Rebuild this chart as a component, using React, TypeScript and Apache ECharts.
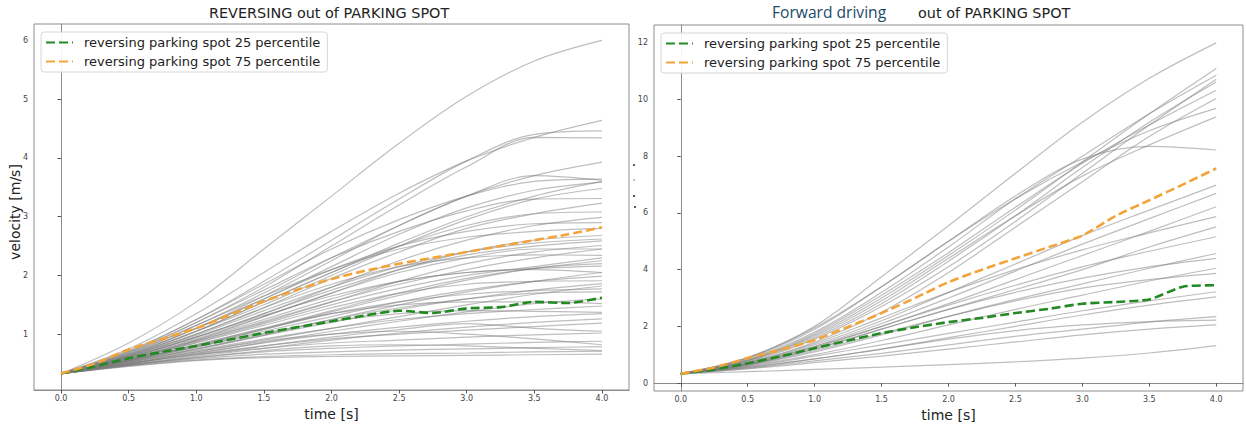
import React, { useEffect, useRef } from "react";
import * as echarts from "echarts";

const NAME25 = "reversing parking spot 25 percentile";
const NAME75 = "reversing parking spot 75 percentile";

const T9 = [0, 0.5, 1, 1.5, 2, 2.5, 3, 3.5, 4];
const T17 = [0, 0.25, 0.5, 0.75, 1, 1.25, 1.5, 1.75, 2, 2.25, 2.5, 2.75, 3, 3.25, 3.5, 3.75, 4];
const X_TICKS = [0, 0.5, 1, 1.5, 2, 2.5, 3, 3.5, 4];
const Y_TICKS_LEFT = [1, 2, 3, 4, 5, 6];
const Y_TICKS_RIGHT = [0, 2, 4, 6, 8, 10, 12];

// Reversing runs (left panel), values at T9
const leftRuns: number[][] = [
  [0.33, 0.85, 1.55, 2.45, 3.35, 4.25, 5.05, 5.65, 6.0],
  [0.33, 0.75, 1.35, 2.05, 2.75, 3.4, 3.95, 4.35, 4.64],
  [0.33, 0.72, 1.25, 1.9, 2.6, 3.3, 3.95, 4.4, 4.46],
  [0.33, 0.7, 1.2, 1.8, 2.5, 3.2, 3.85, 4.35, 4.34],
  [0.33, 0.68, 1.15, 1.7, 2.3, 2.85, 3.35, 3.7, 3.93],
  [0.33, 0.7, 1.25, 1.85, 2.45, 2.95, 3.35, 3.6, 3.64],
  [0.33, 0.66, 1.1, 1.6, 2.15, 2.7, 3.15, 3.45, 3.59],
  [0.33, 0.64, 1.05, 1.5, 2.0, 2.5, 2.95, 3.3, 3.48],
  [0.33, 0.68, 1.2, 1.75, 2.3, 2.75, 3.1, 3.3, 3.31],
  [0.33, 0.62, 1.0, 1.45, 1.95, 2.4, 2.8, 3.05, 3.23],
  [0.33, 0.63, 1.05, 1.55, 2.05, 2.5, 2.85, 3.05, 3.08],
  [0.33, 0.6, 0.95, 1.35, 1.8, 2.25, 2.6, 2.85, 2.99],
  [0.33, 0.65, 1.1, 1.6, 2.1, 2.5, 2.75, 2.88, 2.9],
  [0.33, 0.58, 0.9, 1.3, 1.7, 2.1, 2.4, 2.6, 2.68],
  [0.33, 0.6, 0.95, 1.35, 1.75, 2.1, 2.35, 2.5, 2.59],
  [0.33, 0.57, 0.88, 1.2, 1.55, 1.9, 2.2, 2.4, 2.51],
  [0.33, 0.62, 1.0, 1.45, 1.85, 2.15, 2.3, 2.35, 2.34],
  [0.33, 0.55, 0.82, 1.1, 1.4, 1.7, 1.95, 2.12, 2.25],
  [0.33, 0.58, 0.9, 1.25, 1.6, 1.9, 2.05, 2.12, 2.16],
  [0.33, 0.54, 0.78, 1.05, 1.3, 1.55, 1.75, 1.9, 1.99],
  [0.33, 0.56, 0.85, 1.15, 1.45, 1.7, 1.85, 1.9, 1.91],
  [0.33, 0.53, 0.75, 0.98, 1.2, 1.42, 1.6, 1.75, 1.86],
  [0.33, 0.55, 0.8, 1.08, 1.35, 1.55, 1.68, 1.74, 1.77],
  [0.33, 0.52, 0.72, 0.92, 1.1, 1.25, 1.35, 1.42, 1.48],
  [0.33, 0.54, 0.78, 1.02, 1.22, 1.35, 1.4, 1.39, 1.37],
  [0.33, 0.5, 0.66, 0.8, 0.92, 1.0, 1.07, 1.13, 1.19],
  [0.33, 0.5, 0.65, 0.76, 0.85, 0.9, 0.95, 0.99, 1.02],
  [0.33, 0.48, 0.6, 0.7, 0.76, 0.8, 0.83, 0.86, 0.88],
  [0.33, 0.47, 0.58, 0.66, 0.7, 0.73, 0.75, 0.77, 0.79],
  [0.33, 0.46, 0.56, 0.62, 0.65, 0.67, 0.68, 0.7, 0.71],
  [0.33, 0.45, 0.55, 0.6, 0.62, 0.63, 0.64, 0.65, 0.66],
  [0.33, 0.66, 1.15, 1.65, 2.1, 2.45, 2.65, 2.75, 2.8],
  [0.33, 0.6, 0.98, 1.4, 1.8, 2.15, 2.4, 2.55, 2.62],
  [0.33, 0.56, 0.86, 1.18, 1.5, 1.78, 2.0, 2.15, 2.3],
  [0.33, 0.52, 0.74, 0.98, 1.25, 1.5, 1.72, 1.9, 2.05],
  [0.33, 0.5, 0.7, 0.9, 1.1, 1.3, 1.5, 1.68, 1.82],
  [0.33, 0.49, 0.67, 0.86, 1.05, 1.22, 1.38, 1.52, 1.6],
  [0.33, 0.55, 0.82, 1.1, 1.35, 1.5, 1.55, 1.55, 1.52],
  [0.33, 0.5, 0.68, 0.85, 1.0, 1.12, 1.22, 1.3, 1.35],
  [0.33, 0.47, 0.62, 0.76, 0.9, 1.02, 1.12, 1.2, 1.26],
  [0.33, 0.52, 0.75, 1.0, 1.25, 1.45, 1.6, 1.7, 1.72],
  [0.33, 0.58, 0.92, 1.3, 1.7, 2.05, 2.3, 2.45, 2.45],
  [0.33, 0.62, 1.05, 1.55, 2.05, 2.55, 3.0, 3.35, 3.6],
  [0.33, 0.64, 1.1, 1.65, 2.25, 2.85, 3.35, 3.7, 3.62],
  [0.33, 0.48, 0.64, 0.8, 0.95, 1.08, 1.18, 1.1, 1.05],
  [0.33, 0.5, 0.7, 0.88, 1.0, 1.05, 1.0, 0.92, 0.82],
  [0.33, 0.47, 0.6, 0.72, 0.8, 0.82, 0.8, 0.76, 0.72],
  [0.33, 0.56, 0.88, 1.22, 1.55, 1.85, 2.1, 2.3, 2.45],
  [0.33, 0.54, 0.8, 1.08, 1.38, 1.66, 1.92, 2.12, 2.2],
  [0.33, 0.6, 0.95, 1.32, 1.65, 1.9, 2.05, 2.1, 2.05],
];

// Forward runs (right panel), values at T9
const rightRuns: number[][] = [
  [0.33, 0.9, 2.0, 3.75, 5.55, 7.4, 9.2, 10.75, 12.0],
  [0.33, 0.8, 1.7, 3.0, 4.5, 6.1, 7.8, 9.5, 11.1],
  [0.33, 0.85, 1.8, 3.2, 4.8, 6.5, 8.0, 9.5, 10.86],
  [0.33, 0.75, 1.55, 2.7, 4.1, 5.7, 7.4, 9.1, 10.72],
  [0.33, 0.78, 1.6, 2.8, 4.3, 5.9, 7.6, 9.2, 10.62],
  [0.33, 0.82, 1.75, 3.1, 4.6, 6.2, 7.75, 9.1, 10.33],
  [0.33, 0.72, 1.45, 2.5, 3.9, 5.5, 7.1, 8.7, 10.04],
  [0.33, 0.88, 1.9, 3.4, 5.0, 6.5, 7.8, 8.9, 9.69],
  [0.33, 0.8, 1.65, 2.9, 4.4, 5.9, 7.3, 8.4, 9.39],
  [0.33, 0.9, 1.95, 3.4, 5.0, 6.6, 7.9, 8.35, 8.22],
  [0.33, 0.7, 1.35, 2.2, 3.2, 4.2, 5.2, 6.1, 6.98],
  [0.33, 0.68, 1.3, 2.1, 3.0, 3.95, 4.9, 5.8, 6.69],
  [0.33, 0.66, 1.25, 2.0, 2.8, 3.65, 4.5, 5.35, 6.22],
  [0.33, 0.72, 1.4, 2.3, 3.2, 4.0, 4.7, 5.3, 5.87],
  [0.33, 0.65, 1.2, 1.9, 2.6, 3.3, 4.0, 4.8, 5.51],
  [0.33, 0.68, 1.28, 2.0, 2.75, 3.45, 4.1, 4.65, 5.16],
  [0.33, 0.62, 1.1, 1.7, 2.35, 2.95, 3.5, 4.05, 4.57],
  [0.33, 0.66, 1.2, 1.9, 2.6, 3.2, 3.7, 4.1, 4.4],
  [0.33, 0.6, 1.0, 1.5, 2.05, 2.6, 3.1, 3.6, 4.05],
  [0.33, 0.64, 1.15, 1.75, 2.35, 2.9, 3.35, 3.65, 3.87],
  [0.33, 0.58, 0.95, 1.35, 1.75, 2.15, 2.55, 2.9, 3.22],
  [0.33, 0.55, 0.85, 1.2, 1.6, 2.0, 2.4, 2.75, 3.04],
  [0.33, 0.52, 0.78, 1.05, 1.35, 1.65, 1.9, 2.15, 2.34],
  [0.33, 0.55, 0.85, 1.2, 1.55, 1.85, 2.05, 2.17, 2.22],
  [0.33, 0.5, 0.72, 0.95, 1.2, 1.45, 1.7, 1.9, 2.05],
  [0.33, 0.4, 0.48, 0.56, 0.65, 0.75, 0.88, 1.06, 1.32],
];

// Percentiles at T17
const left25 = [0.33, 0.45, 0.59, 0.7, 0.8, 0.91, 1.02, 1.12, 1.22, 1.32, 1.4, 1.36, 1.44, 1.46, 1.55, 1.53, 1.62];
const left75 = [0.33, 0.5, 0.74, 0.92, 1.1, 1.33, 1.56, 1.76, 1.94, 2.08, 2.2, 2.3, 2.4, 2.5, 2.6, 2.7, 2.82];
const right25 = [0.33, 0.48, 0.7, 0.95, 1.23, 1.5, 1.76, 1.97, 2.15, 2.3, 2.47, 2.62, 2.8, 2.86, 2.95, 3.4, 3.45];
const right75 = [0.33, 0.55, 0.88, 1.18, 1.52, 1.98, 2.47, 3.0, 3.56, 4.0, 4.4, 4.8, 5.2, 5.9, 6.45, 7.0, 7.57];

const GREEN = "#238a23";
const ORANGE = "#f2a33a";
const GRAY = "rgba(125,125,125,0.5)";
const FONT = "DejaVu Sans";

function pairs(ts: number[], vs: number[]) {
  return ts.map((t, i) => [t, vs[i]]);
}

function buildOption() {
  const series: any[] = [];
  leftRuns.forEach((r, i) =>
    series.push({
      type: "line", name: "left-run-" + i, xAxisIndex: 0, yAxisIndex: 0,
      data: pairs(T9, r), smooth: 0.35, symbol: "none", silent: true,
      lineStyle: { color: GRAY, width: 1.2 }, z: 2,
    })
  );
  rightRuns.forEach((r, i) =>
    series.push({
      type: "line", name: "right-run-" + i, xAxisIndex: 1, yAxisIndex: 1,
      data: pairs(T9, r), smooth: 0.35, symbol: "none", silent: true,
      lineStyle: { color: GRAY, width: 1.2 }, z: 2,
    })
  );
  const pct = (name: string, xi: number, vals: number[], color: string) => ({
    type: "line", name, xAxisIndex: xi, yAxisIndex: xi,
    data: pairs(T17, vals), smooth: 0.2, symbol: "none", silent: true,
    itemStyle: { color },
    lineStyle: { color, width: 2.6, type: [9, 4] }, z: 5,
  });
  series.push(pct(NAME25, 0, left25, GREEN));
  series.push(pct(NAME75, 0, left75, ORANGE));
  series.push(pct(NAME25, 1, right25, GREEN));
  series.push(pct(NAME75, 1, right75, ORANGE));

  const xAxis = (gi: number) => ({
    type: "value", gridIndex: gi, min: -0.2, max: 4.2,
    splitLine: { show: false },
    axisLine: { show: true, lineStyle: { color: "#8c8c8c" } },
    axisTick: { show: true, length: 3.5, customValues: X_TICKS, lineStyle: { color: "#555" } },
    axisLabel: {
      customValues: X_TICKS, fontSize: 8, color: "#444", margin: 4, fontFamily: FONT,
      formatter: (v: number) => v.toFixed(1),
    },
    name: "time [s]", nameLocation: "middle", nameGap: 13,
    nameTextStyle: { fontSize: 14, color: "#222", fontFamily: FONT },
  });
  const yAxis = (gi: number, min: number, max: number, ticks: number[]) => ({
    type: "value", gridIndex: gi, min, max,
    splitLine: { show: false },
    axisLine: { show: true, lineStyle: { color: "#8c8c8c" } },
    axisTick: { show: true, length: 3.5, customValues: ticks, lineStyle: { color: "#555" } },
    axisLabel: { customValues: ticks, fontSize: 8, color: "#444", margin: 6, fontFamily: FONT },
  });

  const legend = (left: number, top: number) => ({
    left, top, orient: "vertical", data: [NAME25, NAME75],
    itemWidth: 27, itemHeight: 12, itemGap: 6, selectedMode: false,
    itemStyle: { opacity: 0 },
    backgroundColor: "rgba(255,255,255,0.9)", borderColor: "#d6d6d6", borderWidth: 1, borderRadius: 3,
    padding: [4, 7, 4, 4],
    textStyle: { fontSize: 13, color: "#222", fontFamily: FONT, padding: [0, 0, 0, 6] },
  });

  return {
    animation: false,
    backgroundColor: "#ffffff",
    textStyle: { fontFamily: FONT },
    grid: [
      { left: 34, top: 24, width: 595, height: 366, show: true, borderColor: "#8c8c8c", borderWidth: 1, backgroundColor: "#fff" },
      { left: 654, top: 25, width: 589, height: 366, show: true, borderColor: "#8c8c8c", borderWidth: 1, backgroundColor: "#fff" },
    ],
    xAxis: [xAxis(0), xAxis(1)],
    yAxis: [yAxis(0, 0.05, 6.28, Y_TICKS_LEFT), yAxis(1, -0.28, 12.63, Y_TICKS_RIGHT)],
    legend: [legend(41, 32), legend(661, 33)],
    graphic: [
      { type: "text", left: 209, top: 6, style: { text: "REVERSING out of PARKING SPOT", fontSize: 14.4, fill: "#222", fontFamily: FONT } },
      { type: "text", left: 772, top: 4, style: { text: "Forward driving", fontSize: 15.6, fill: "#1c4a66", fontFamily: "Open Sans" } },
      { type: "text", left: 918, top: 6, style: { text: "out of PARKING SPOT", fontSize: 14.4, fill: "#222", fontFamily: FONT } },
      {
        type: "text", x: 15, y: 212, rotation: Math.PI / 2,
        style: { text: "velocity [m/s]", fontSize: 14, fill: "#222", fontFamily: FONT, align: "center", verticalAlign: "middle" },
      },
      { type: "circle", shape: { cx: 634, cy: 165, r: 1.1 }, style: { fill: "#444" } },
      { type: "circle", shape: { cx: 634, cy: 180, r: 0.9 }, style: { fill: "#aaa" } },
      { type: "circle", shape: { cx: 634, cy: 196, r: 1.1 }, style: { fill: "#444" } },
      { type: "circle", shape: { cx: 635, cy: 207, r: 1.1 }, style: { fill: "#444" } },
    ],
    series,
  };
}

export default function App() {
  const ref = useRef<HTMLDivElement>(null);
  useEffect(() => {
    if (!ref.current) return;
    const chart = echarts.init(ref.current, null, { renderer: "svg" });
    chart.setOption(buildOption() as any);
    return () => chart.dispose();
  }, []);
  return <div ref={ref} style={{ position: "absolute", left: 0, top: 0, width: 1246, height: 428 }} />;
}
